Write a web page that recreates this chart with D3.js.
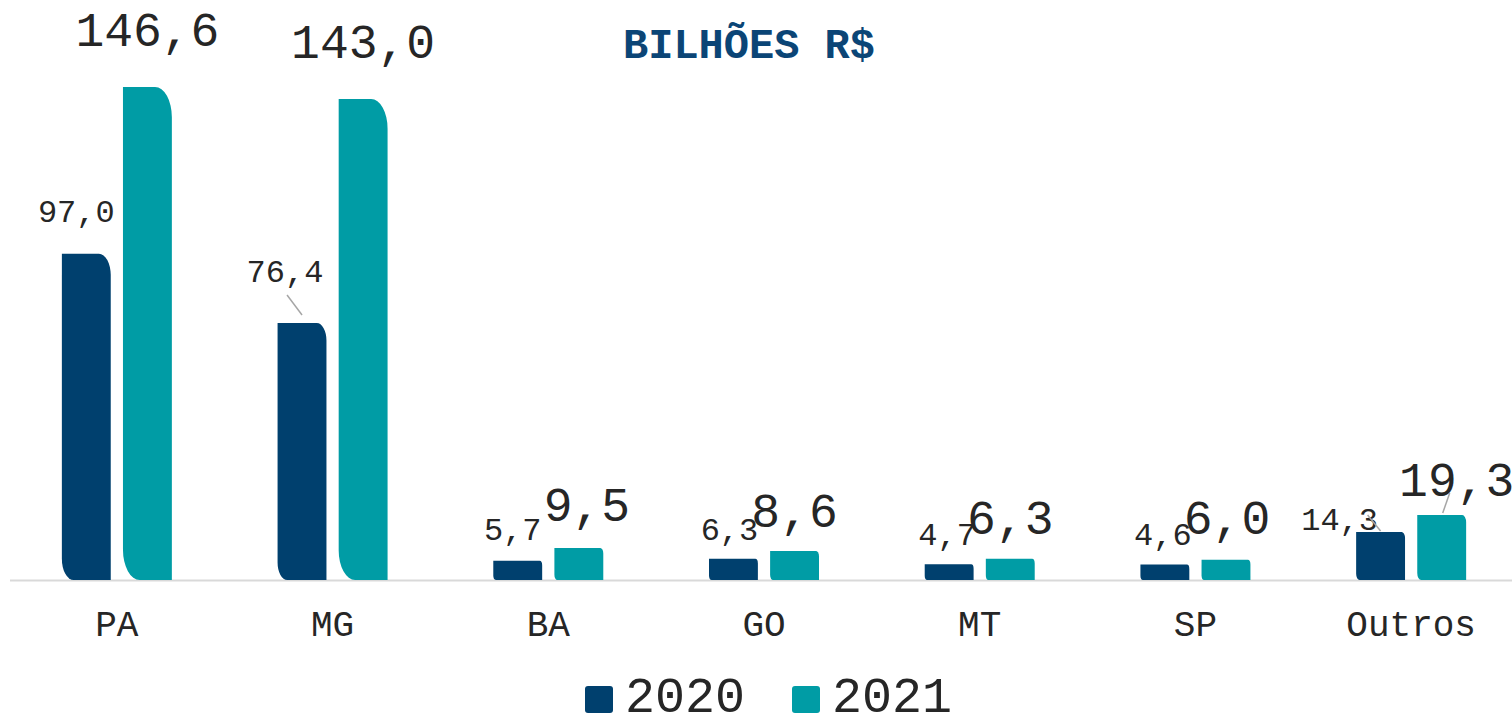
<!DOCTYPE html>
<html>
<head>
    <meta charset="utf-8" />
    <title>Bilhões R$ por estado</title>
    <script src="https://d3js.org/d3.v7.min.js"></script>
    <style>
        body { margin: 0; background: #fff; }
        text { font-family: "Liberation Mono", "Courier New", monospace; fill: #262626; }
    </style>
</head>
<body>
    <div id="chart"></div>
    <script>
        // data
        const categories = ["PA", "MG", "BA", "GO", "MT", "SP", "Outros"];
        const seriesNames = ["2020", "2021"];
        const values2020 = [97.0, 76.4, 5.7, 6.3, 4.7, 4.6, 14.3];
        const values2021 = [146.6, 143.0, 9.5, 8.6, 6.3, 6.0, 19.3];
        const colors = ["#00406e", "#009ca5"];

        // manual label nudges (dx from bar centre, dy of baseline from bar top), like the Excel original
        const nudge2020 = [[-10, -32], [-17, -41], [-5, -21], [-4, -19], [-2, -19], [-2, -20], [-41, -2]];
        const nudge2021 = [[0, -41], [0, -41], [8, -27], [0, -24], [0, -25], [1, -26], [15, -19]];
        // leader lines: [start dx, start dy from label anchor, end dx, end dy from bar top centre]
        const leader2020 = [null, [2, 13, 0, -8], null, null, null, null, [28, -15, 0, -1]];
        const leader2021 = [null, null, null, null, null, null, [-7, -3, 1, -2]];

        const width = 1512, height = 715;
        const baseY = 580;

        const svg = d3.select("#chart").append("svg")
            .attr("width", width)
            .attr("height", height);

        const x0 = d3.scaleBand().domain(categories).range([9, 1519]);
        const x1 = d3.scaleBand().domain(seriesNames).range([0, 110]).paddingInner(0.2);
        const y = d3.scaleLinear().domain([0, 150]).range([baseY, baseY - 150 * 3.363]);

        const fmt = v => v.toFixed(1).replace(".", ",");

        // axis line
        svg.append("line")
            .attr("x1", 10).attr("x2", width)
            .attr("y1", baseY + 0.5).attr("y2", baseY + 0.5)
            .attr("stroke", "#d9d9d9")
            .attr("stroke-width", 2);

        // title
        svg.append("text")
            .attr("x", 749).attr("y", 58)
            .attr("text-anchor", "middle")
            .style("font-size", "42px")
            .style("font-weight", "bold")
            .style("fill", "#0b4576")
            .text("BILHÕES R$");

        // bar shape: top-right and bottom-left rounded
        function barPath(xl, w, yt, yb) {
            const h = yb - yt;
            const rx = Math.min(17, 2 + h * 0.03, w / 2);
            const ry = Math.min(rx * 1.8, h / 2.5);
            const xr = xl + w;
            return `M${xl},${yt}L${xr - rx},${yt}A${rx},${ry} 0 0 1 ${xr},${yt + ry}` +
                `L${xr},${yb}L${xl + rx},${yb}A${rx},${ry} 0 0 1 ${xl},${yb - ry}Z`;
        }

        const series = [
            { name: "2020", values: values2020, nudge: nudge2020, leader: leader2020, size: 32, color: colors[0] },
            { name: "2021", values: values2021, nudge: nudge2021, leader: leader2021, size: 48, color: colors[1] }
        ];

        const center = c => x0(c) + x0.bandwidth() / 2;

        series.forEach(s => {
            const g = svg.append("g");
            const bw = x1.bandwidth();
            categories.forEach((c, i) => {
                const xl = center(c) - 55 + x1(s.name);
                const yt = y(s.values[i]);
                g.append("path")
                    .attr("d", barPath(xl, bw, yt, baseY))
                    .attr("fill", s.color);

                const bc = xl + bw / 2;
                const lx = bc + s.nudge[i][0], ly = yt + s.nudge[i][1];
                g.append("text")
                    .attr("x", lx)
                    .attr("y", ly)
                    .attr("text-anchor", "middle")
                    .style("font-size", s.size + "px")
                    .text(fmt(s.values[i]));

                const ld = s.leader[i];
                if (ld) {
                    g.append("line")
                        .attr("x1", lx + ld[0]).attr("y1", ly + ld[1])
                        .attr("x2", bc + ld[2]).attr("y2", yt + ld[3])
                        .attr("stroke", "#a6a6a6")
                        .attr("stroke-width", 1.5);
                }
            });
        });

        // category labels
        svg.append("g").selectAll("text")
            .data(categories)
            .enter().append("text")
            .attr("x", d => center(d))
            .attr("y", 636)
            .attr("text-anchor", "middle")
            .style("font-size", "36px")
            .text(d => d);

        // legend
        const legX = [585, 792];
        seriesNames.forEach((n, i) => {
            svg.append("rect")
                .attr("x", legX[i]).attr("y", 686)
                .attr("width", 28).attr("height", 27)
                .attr("rx", 3)
                .attr("fill", colors[i]);
            svg.append("text")
                .attr("x", legX[i] + 40).attr("y", 712)
                .style("font-size", "50px")
                .text(n);
        });
    </script>
</body>
</html>
